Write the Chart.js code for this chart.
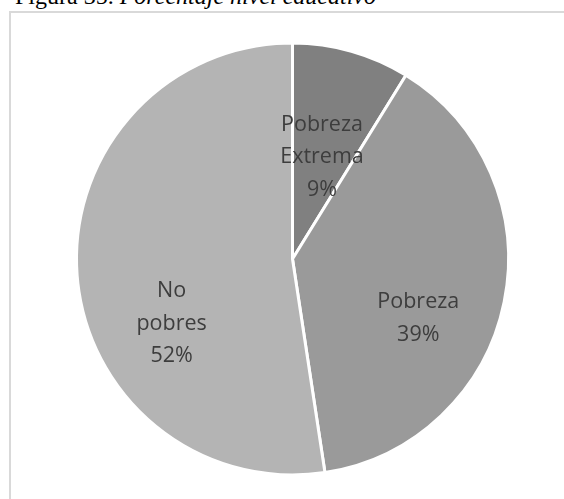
<!DOCTYPE html>
<html>
<head>
<meta charset="utf-8">
<script src="https://cdn.jsdelivr.net/npm/chart.js@4.4.1/dist/chart.umd.min.js"></script>
<style>
  html, body { margin: 0; padding: 0; background: #fff; overflow: hidden; }
  body { width: 564px; height: 499px; position: relative; }
  .caption {
    position: absolute; left: 15px; top: -16px;
    font-family: "Liberation Serif", "DejaVu Serif", serif;
    font-size: 24px; line-height: 24px; color: #000; white-space: nowrap;
  }
  .caption i { font-style: italic; }
  .frame {
    position: absolute; left: 9px; top: 11px; width: 600px; height: 520px;
    border: 2px solid #d9d9d9; box-sizing: border-box;
  }
  .wrap { position: absolute; left: 0; top: 0; width: 564px; height: 499px; }
</style>
</head>
<body>
<div class="caption">Figura 35. <i>Porcentaje nivel educativo</i></div>
<div class="frame"></div>
<div class="wrap"><canvas id="pieChart"></canvas></div>
<script>
// Categories and values (percent of total)
const categories = ['Pobreza Extrema', 'Pobreza', 'No pobres'];
const shares = [8.8, 38.8, 52.4];
const sliceColors = ['#808080', '#9a9a9a', '#b4b4b4'];

// label placement: angle shift (deg) from slice middle, fraction of radius
const labelPlacement = [
  { shift: 0, frac: 0.5 },
  { shift: 13, frac: 0.64 },
  { shift: -23, frac: 0.63 }
];

const pieLabels = {
  id: 'pieLabels',
  afterDatasetsDraw(chart) {
    const ctx = chart.ctx;
    const meta = chart.getDatasetMeta(0);
    const values = chart.data.datasets[0].data;
    const total = values.reduce((a, b) => a + b, 0);
    ctx.save();
    ctx.font = '21.5px "Open Sans", "Noto Sans", sans-serif';
    ctx.fillStyle = '#3d3d3d';
    ctx.textAlign = 'center';
    ctx.textBaseline = 'middle';
    meta.data.forEach((arc, i) => {
      const p = arc.getProps(['x', 'y', 'startAngle', 'endAngle', 'outerRadius'], true);
      const place = labelPlacement[i];
      const mid = (p.startAngle + p.endAngle) / 2 + place.shift * Math.PI / 180;
      const r = p.outerRadius * place.frac;
      const cx = p.x + Math.cos(mid) * r;
      const cy = p.y + Math.sin(mid) * r + 2;
      const lines = chart.data.labels[i].split(' ');
      lines.push(Math.round(values[i] / total * 100) + '%');
      const lh = 32.5;
      const top = cy - (lines.length - 1) * lh / 2;
      lines.forEach((t, k) => ctx.fillText(t, cx, top + k * lh));
    });
    ctx.restore();
  }
};

document.addEventListener('DOMContentLoaded', function() {
  const ctx = document.getElementById('pieChart').getContext('2d');
  new Chart(ctx, {
    type: 'pie',
    data: {
      labels: categories,
      datasets: [{
        data: shares,
        backgroundColor: sliceColors,
        borderColor: '#ffffff',
        borderWidth: 3
      }]
    },
    options: {
      responsive: true,
      maintainAspectRatio: false,
      animation: false,
      layout: {
        padding: { left: 75, right: 54, top: 41, bottom: 22 }
      },
      plugins: {
        legend: { display: false },
        tooltip: { enabled: false }
      }
    },
    plugins: [pieLabels]
  });
});
</script>
</body>
</html>
